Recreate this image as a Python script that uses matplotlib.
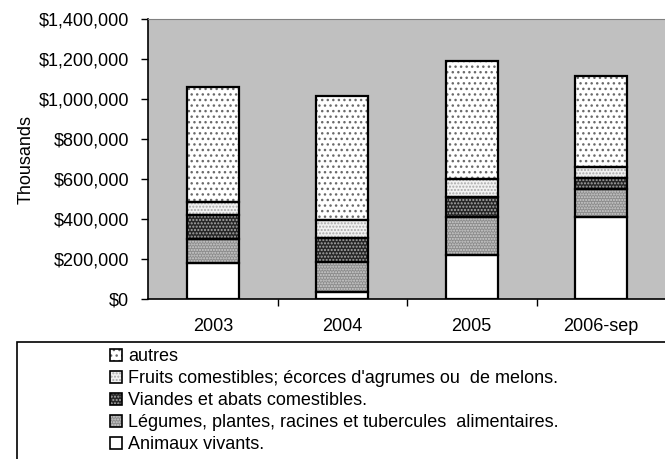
import numpy as np
import matplotlib.pyplot as plt
from matplotlib.patches import Rectangle, Patch
from matplotlib.legend_handler import HandlerTuple
from matplotlib.ticker import FuncFormatter

plt.rcParams['font.family'] = ['Liberation Sans', 'DejaVu Sans']
plt.rcParams['hatch.linewidth'] = 1.0

years = ['2003', '2004', '2005', '2006-sep']
series = ['Animaux vivants.',
          'Légumes, plantes, racines et tubercules  alimentaires.',
          'Viandes et abats comestibles.',
          "Fruits comestibles; écorces d'agrumes ou  de melons.",
          'autres']
# values in thousands of $
animaux = [178000, 37000, 219000, 410000]
legumes = [121000, 149000, 191000, 142000]
viandes = [120000, 120000, 100000, 55000]
fruits = [66000, 88000, 91000, 53000]
autres = [577000, 623000, 589000, 457000]
values = [animaux, legumes, viandes, fruits, autres]

# face colour, hatch, hatch colour
styles = [('white', None, None),
          ('#8c8c8c', '......', '#cfcfcf'),
          ('#262626', '.....', '#a8a8a8'),
          ('#f2f2f2', '.....', '#a8a8a8'),
          ('white', '...', '#6a6a6a')]

fig = plt.figure(figsize=(6.65, 4.59), dpi=100)
ax = fig.add_axes([148/665, 1 - 299/459, 518/665, 280/459])
ax.set_facecolor('#c0c0c0')

x = np.arange(len(years))
w = 0.4
bottom = np.zeros(len(years))
handles = []
for vals, name, (fc, hatch, hc) in zip(values, series, styles):
    ax.bar(x, vals, w, bottom=bottom, color=fc, linewidth=0, zorder=2)
    if hatch:
        ax.bar(x, vals, w, bottom=bottom, facecolor='none', edgecolor=hc,
               hatch=hatch, linewidth=0, zorder=3)
    ax.bar(x, vals, w, bottom=bottom, fill=False, edgecolor='black',
           linewidth=1.6, zorder=4)
    bottom += np.array(vals)
    fill_key = Patch(facecolor=fc, edgecolor=hc if hc else fc,
                     hatch=hatch, linewidth=0)
    edge_key = Patch(fill=False, edgecolor='black', linewidth=1.2)
    handles.append((fill_key, edge_key))

ax.set_xlim(-0.5, 3.5)
ax.set_ylim(0, 1400000)
ax.set_yticks(np.arange(0, 1400001, 200000))
ax.yaxis.set_major_formatter(FuncFormatter(lambda v, p: '${:,.0f}'.format(v)))
ax.set_xticks([0.5, 1.5, 2.5])
ax.set_xticklabels([])
ax.set_xticks(x, minor=True)
ax.set_xticklabels(years, minor=True)
ax.tick_params(axis='x', which='minor', length=0, pad=14, labelsize=13)
ax.tick_params(axis='x', which='major', length=5, direction='out', width=1)
ax.tick_params(axis='y', length=5, direction='out', width=1, labelsize=13, pad=8.5)
ax.set_ylabel('Thousands', fontsize=13, labelpad=3)
for s in ['top', 'right']:
    ax.spines[s].set_color('#808080')
ax.spines['left'].set_linewidth(1.2)
ax.spines['bottom'].set_linewidth(1.2)

# legend box
fig.patches.append(Rectangle((17/665, -0.1), 1.0, 1 - 342/459 + 0.1,
                             transform=fig.transFigure, fill=False,
                             edgecolor='black', linewidth=1.2))
leg = fig.legend(handles[::-1], series[::-1], loc='upper left',
                 bbox_to_anchor=(103/665, 1 - 341/459), frameon=False,
                 fontsize=13, handlelength=0.65, handleheight=0.65,
                 handletextpad=0.35, labelspacing=0.28, borderaxespad=0,
                 handler_map={tuple: HandlerTuple(ndivide=1, pad=0)})

fig.savefig('out.png', dpi=100)
